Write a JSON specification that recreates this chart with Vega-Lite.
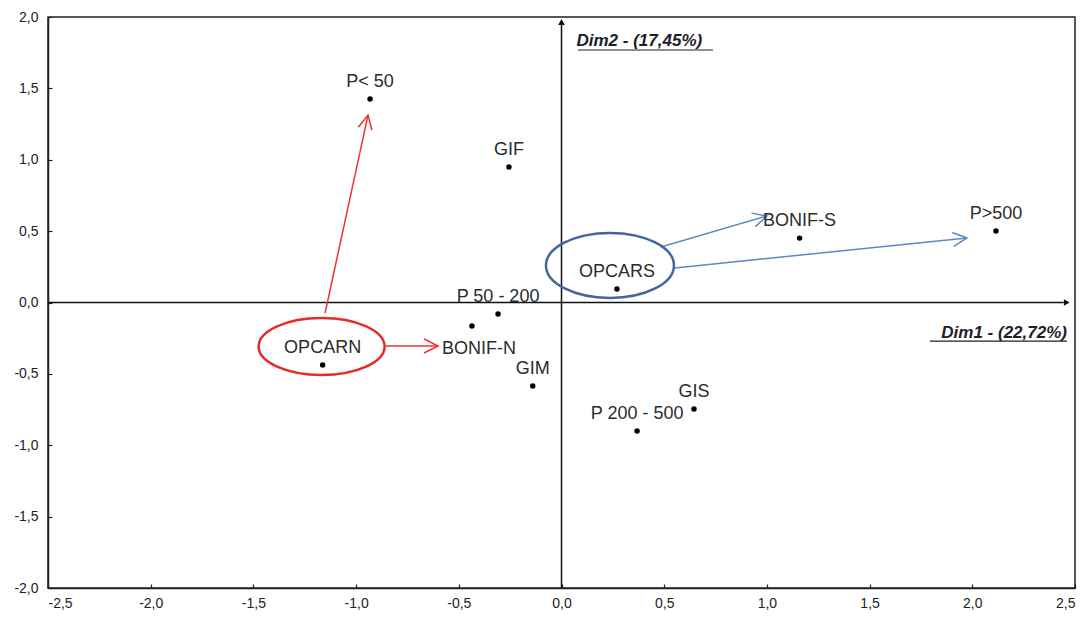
{
  "$schema": "https://vega.github.io/schema/vega-lite/v6.json",
  "width": 1027,
  "height": 571,
  "autosize": {"type": "none"},
  "padding": {"left": 48, "top": 17, "right": 17, "bottom": 31},
  "background": "white",
  "config": {
    "view": {"stroke": "#222222", "strokeWidth": 1.5},
    "font": "Liberation Sans",
    "axis": {
      "grid": false,
      "domainColor": "#222222",
      "domainWidth": 1.5,
      "tickColor": "#222222",
      "tickSize": -4,
      "tickWidth": 1.2,
      "labelFont": "Liberation Sans",
      "labelFontSize": 14,
      "labelColor": "#222222",
      "title": null
    }
  },
  "datasets": {
    "points": [
      {"name": "P< 50", "dim1": -0.932, "dim2": 1.426},
      {"name": "GIF", "dim1": -0.256, "dim2": 0.949},
      {"name": "BONIF-S", "dim1": 1.159, "dim2": 0.451},
      {"name": "P>500", "dim1": 2.115, "dim2": 0.501},
      {"name": "OPCARS", "dim1": 0.27, "dim2": 0.095},
      {"name": "P 50 - 200", "dim1": -0.309, "dim2": -0.081},
      {"name": "BONIF-N", "dim1": -0.436, "dim2": -0.165},
      {"name": "OPCARN", "dim1": -1.163, "dim2": -0.438},
      {"name": "GIM", "dim1": -0.14, "dim2": -0.585},
      {"name": "GIS", "dim1": 0.645, "dim2": -0.746},
      {"name": "P 200 - 500", "dim1": 0.368, "dim2": -0.9}
    ],
    "arrows": [
      {"id": "a", "group": "N", "x1": -1.151, "y1": -0.074, "x2": -0.942, "y2": 1.313},
      {"id": "b", "group": "N", "x1": -0.864, "y1": -0.305, "x2": -0.601, "y2": -0.305},
      {"id": "c", "group": "S", "x1": 0.484, "y1": 0.389, "x2": 1.0, "y2": 0.606},
      {"id": "d", "group": "S", "x1": 0.553, "y1": 0.242, "x2": 1.974, "y2": 0.452}
    ]
  },
  "data": {"name": "points"},
  "layer": [
    {
      "mark": {"type": "point", "opacity": 0},
      "encoding": {
        "x": {
          "field": "dim1", "type": "quantitative",
          "scale": {"domain": [-2.5, 2.5], "nice": false, "zero": false},
          "axis": {
            "values": [-2.5, -2, -1.5, -1, -0.5, 0, 0.5, 1, 1.5, 2, 2.5],
            "labelExpr": "replace(replace(format(datum.value, '.1f'), '.', ','), '−', '-')",
            "labelPadding": 12
          }
        },
        "y": {
          "field": "dim2", "type": "quantitative",
          "scale": {"domain": [-2, 2], "nice": false, "zero": false},
          "axis": {
            "values": [-2, -1.5, -1, -0.5, 0, 0.5, 1, 1.5, 2],
            "labelExpr": "replace(replace(format(datum.value, '.1f'), '.', ','), '−', '-')",
            "labelPadding": 14
          }
        }
      }
    },
    {
      "data": {"values": [{}]},
      "mark": {"type": "rule", "color": "#111111", "strokeWidth": 1.5},
      "encoding": {
        "x": {"datum": 0, "type": "quantitative"},
        "y": {"datum": -2, "type": "quantitative"},
        "y2": {"datum": 1.95}
      }
    },
    {
      "data": {"values": [{}]},
      "mark": {"type": "rule", "color": "#111111", "strokeWidth": 1.5},
      "encoding": {
        "y": {"datum": 0, "type": "quantitative"},
        "x": {"datum": -2.5, "type": "quantitative"},
        "x2": {"datum": 2.445}
      }
    },
    {
      "data": {"values": [{}]},
      "mark": {"type": "point", "shape": "triangle-up", "filled": true, "color": "#111111", "opacity": 1, "size": 45},
      "encoding": {
        "x": {"datum": 0, "type": "quantitative"},
        "y": {"datum": 1.965, "type": "quantitative"}
      }
    },
    {
      "data": {"values": [{}]},
      "mark": {"type": "point", "shape": "triangle-right", "filled": true, "color": "#111111", "opacity": 1, "size": 45},
      "encoding": {
        "x": {"datum": 2.46, "type": "quantitative"},
        "y": {"datum": 0, "type": "quantitative"}
      }
    },
    {
      "data": {"name": "arrows"},
      "mark": {"type": "rule", "strokeWidth": 1.5},
      "encoding": {
        "x": {"field": "x1", "type": "quantitative"},
        "y": {"field": "y1", "type": "quantitative"},
        "x2": {"field": "x2"},
        "y2": {"field": "y2"},
        "color": {"field": "group", "type": "nominal", "scale": {"domain": ["N", "S"], "range": ["#ee3333", "#5b89c4"]}, "legend": null}
      }
    },
    {
      "data": {"name": "arrows"},
      "transform": [{"filter": "datum.id === 'a'"}],
      "mark": {"type": "point", "shape": "M-1,-0.5L0,0L-1,0.5", "filled": false, "strokeWidth": 1.5, "opacity": 1, "size": 784, "angle": 282, "color": "#ee3333"},
      "encoding": {
        "x": {"field": "x2", "type": "quantitative"},
        "y": {"field": "y2", "type": "quantitative"}
      }
    },
    {
      "data": {"name": "arrows"},
      "transform": [{"filter": "datum.id === 'b'"}],
      "mark": {"type": "point", "shape": "M-1,-0.5L0,0L-1,0.5", "filled": false, "strokeWidth": 1.5, "opacity": 1, "size": 784, "angle": 0, "color": "#ee3333"},
      "encoding": {
        "x": {"field": "x2", "type": "quantitative"},
        "y": {"field": "y2", "type": "quantitative"}
      }
    },
    {
      "data": {"name": "arrows"},
      "transform": [{"filter": "datum.id === 'c'"}],
      "mark": {"type": "point", "shape": "M-1,-0.5L0,0L-1,0.5", "filled": false, "strokeWidth": 1.5, "opacity": 1, "size": 784, "angle": 344, "color": "#5b89c4"},
      "encoding": {
        "x": {"field": "x2", "type": "quantitative"},
        "y": {"field": "y2", "type": "quantitative"}
      }
    },
    {
      "data": {"name": "arrows"},
      "transform": [{"filter": "datum.id === 'd'"}],
      "mark": {"type": "point", "shape": "M-1,-0.5L0,0L-1,0.5", "filled": false, "strokeWidth": 1.5, "opacity": 1, "size": 784, "angle": 354, "color": "#5b89c4"},
      "encoding": {
        "x": {"field": "x2", "type": "quantitative"},
        "y": {"field": "y2", "type": "quantitative"}
      }
    },
    {
      "transform": [{"filter": "datum.name === 'OPCARN'"}],
      "mark": {
        "type": "point",
        "shape": "M-1,0C-1,-0.25,-0.552,-0.452,0,-0.452C0.552,-0.452,1,-0.25,1,0C1,0.25,0.552,0.452,0,0.452C-0.552,0.452,-1,0.25,-1,0Z",
        "filled": false, "color": "#e52b2b", "strokeWidth": 2.5, "opacity": 1, "size": 15876,
        "xOffset": -1, "yOffset": -18.5
      },
      "encoding": {
        "x": {"field": "dim1", "type": "quantitative"},
        "y": {"field": "dim2", "type": "quantitative"}
      }
    },
    {
      "transform": [{"filter": "datum.name === 'OPCARS'"}],
      "mark": {
        "type": "point",
        "shape": "M-1,0C-1,-0.281,-0.552,-0.508,0,-0.508C0.552,-0.508,1,-0.281,1,0C1,0.281,0.552,0.508,0,0.508C-0.552,0.508,-1,0.281,-1,0Z",
        "filled": false, "color": "#41679b", "strokeWidth": 2.5, "opacity": 1, "size": 16384,
        "xOffset": -7, "yOffset": -23.5
      },
      "encoding": {
        "x": {"field": "dim1", "type": "quantitative"},
        "y": {"field": "dim2", "type": "quantitative"}
      }
    },
    {
      "mark": {"type": "point", "shape": "circle", "filled": true, "color": "#000000", "opacity": 1, "size": 30},
      "encoding": {
        "x": {"field": "dim1", "type": "quantitative"},
        "y": {"field": "dim2", "type": "quantitative"}
      }
    },
    {
      "transform": [{"filter": "datum.name !== 'BONIF-N'"}],
      "mark": {"type": "text", "font": "Liberation Sans", "fontSize": 18, "color": "#2b2b2b", "align": "center", "baseline": "alphabetic", "dy": -12},
      "encoding": {
        "x": {"field": "dim1", "type": "quantitative"},
        "y": {"field": "dim2", "type": "quantitative"},
        "text": {"field": "name"}
      }
    },
    {
      "transform": [{"filter": "datum.name === 'BONIF-N'"}],
      "mark": {"type": "text", "font": "Liberation Sans", "fontSize": 18, "color": "#2b2b2b", "align": "center", "baseline": "alphabetic", "dx": 7, "dy": 28},
      "encoding": {
        "x": {"field": "dim1", "type": "quantitative"},
        "y": {"field": "dim2", "type": "quantitative"},
        "text": {"field": "name"}
      }
    },
    {
      "data": {"values": [{}]},
      "mark": {"type": "text", "font": "Liberation Sans", "fontSize": 17, "fontWeight": "bold", "fontStyle": "italic", "color": "#1e1e2a", "align": "left", "baseline": "alphabetic", "dx": 15, "dy": 29},
      "encoding": {
        "x": {"datum": 0, "type": "quantitative"},
        "y": {"datum": 2, "type": "quantitative"},
        "text": {"value": "Dim2 - (17,45%)"}
      }
    },
    {
      "data": {"values": [{}]},
      "mark": {"type": "rule", "color": "#1e1e2a", "strokeWidth": 1.2},
      "encoding": {
        "x": {"datum": 0.08, "type": "quantitative"},
        "x2": {"datum": 0.7375},
        "y": {"datum": 1.769, "type": "quantitative"}
      }
    },
    {
      "data": {"values": [{}]},
      "mark": {"type": "text", "font": "Liberation Sans", "fontSize": 17, "fontWeight": "bold", "fontStyle": "italic", "color": "#1e1e2a", "align": "right", "baseline": "alphabetic", "dx": -8, "dy": 35},
      "encoding": {
        "x": {"datum": 2.5, "type": "quantitative"},
        "y": {"datum": 0, "type": "quantitative"},
        "text": {"value": "Dim1 - (22,72%)"}
      }
    },
    {
      "data": {"values": [{}]},
      "mark": {"type": "rule", "color": "#1e1e2a", "strokeWidth": 1.2},
      "encoding": {
        "x": {"datum": 1.794, "type": "quantitative"},
        "x2": {"datum": 2.461},
        "y": {"datum": -0.27, "type": "quantitative"}
      }
    }
  ]
}
